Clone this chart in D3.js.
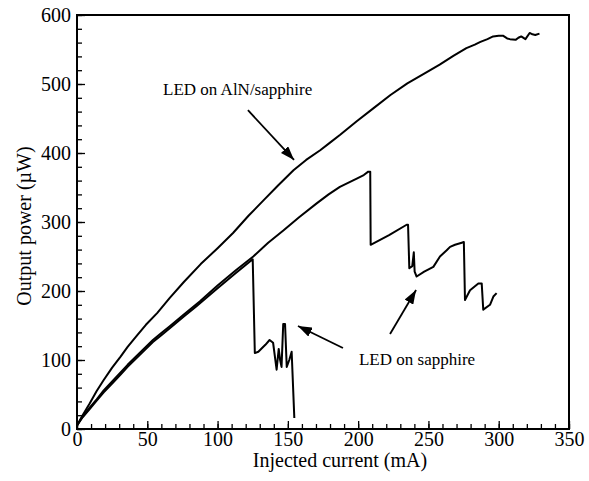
<!DOCTYPE html>
<html>
<head>
<meta charset="utf-8">
<script src="https://cdn.jsdelivr.net/npm/d3@7"></script>
<style>
  body { margin: 0; background: #fff; }
  svg { display: block; }
  text { fill: #000; }
</style>
</head>
<body>
<svg id="chart" width="589" height="481"></svg>
<script>
// injected current (mA), output power (uW)
const alnCurve = [
  [0, 5], [4, 20], [9, 37], [14, 55], [19, 71], [25, 89], [31, 105], [36, 119], [42, 134],
  [49, 151], [57, 168], [66, 190], [76, 213], [88, 239], [100, 262], [111, 284], [122, 309],
  [133, 332], [143, 353], [154, 375], [163, 390], [173, 404], [180, 415], [187, 426],
  [199, 446], [211, 465], [223, 484], [235, 501], [247, 515], [258, 528], [268, 541],
  [277, 552], [283, 557], [287, 561], [292, 565], [296, 569], [300, 570], [303, 570],
  [306, 566], [308, 565], [312, 564], [314, 567], [316, 569], [319, 565], [322, 574],
  [324, 572], [326, 571], [329, 573]
];

const sapphireA = [
  [0, 5], [4, 17], [9, 29], [14, 41], [19, 53], [25, 66], [31, 79], [36, 90], [42, 102],
  [48, 114], [54, 126], [60, 136], [66, 146], [76, 163], [85, 178], [100, 204], [113, 226],
  [125, 246], [126.5, 110], [129, 112], [134, 122], [137, 129], [139.5, 125], [142, 86],
  [143.5, 116], [144.5, 100], [145.5, 90], [146.7, 152], [148, 152], [149.2, 90],
  [151, 100], [152.7, 112], [154.6, 16]
];

const sapphireB = [
  [0, 5], [4, 18], [9, 31], [14, 43], [19, 56], [25, 69], [31, 82], [36, 93], [42, 105],
  [48, 117], [54, 129], [60, 139], [66, 149], [76, 166], [87.5, 185], [100, 208],
  [113, 230], [125.4, 250], [136, 270], [147, 288], [158, 307], [170.5, 327], [179, 340],
  [187, 351], [199, 363], [204, 368], [207.2, 373], [208.6, 373], [208.9, 267], [222, 281],
  [234.5, 296], [235.5, 296], [236.4, 233], [238.5, 236], [239.6, 256], [240.2, 228],
  [241.6, 221], [247, 228], [253.5, 235], [258.2, 250], [263, 259], [265.4, 264],
  [268.9, 267], [273.7, 270], [275.2, 271], [276, 187], [279.6, 201], [285.5, 211],
  [287.9, 211], [289, 173], [293.8, 180], [296.2, 192], [298.5, 197]
];

const xTicks = [0, 50, 100, 150, 200, 250, 300, 350];
const yTicks = [0, 100, 200, 300, 400, 500, 600];

// labels and arrows, in data units
const notes = [
  { text: 'LED on AlN/sapphire', x: 61.2, y: 484 },
  { text: 'LED on sapphire', x: 200.6, y: 92.8 }
];
const arrows = [
  { from: [121.6, 462], to: [154.4, 390] },
  { from: [189.2, 117.4], to: [157.2, 149.3] },
  { from: [222.7, 137.7], to: [241.2, 201.4] }
];

const serif = "'Liberation Serif', 'Times New Roman', Times, 'Nimbus Roman', 'FreeSerif', 'Noto Serif', 'DejaVu Serif', serif";
const margin = { top: 15, left: 77 };

const svg = d3.select('#chart')
  .style('font-family', serif);
const g = svg.append('g')
  .attr('transform', `translate(${margin.left}, ${margin.top})`);

const xScale = d3.scaleLinear().domain([0, 350]).range([0, 492]);
const yScale = d3.scaleLinear().domain([0, 600]).range([414, 0]);

// minor ticks first, majors on top
g.append('g')
  .attr('transform', 'translate(0, 414)')
  .call(d3.axisBottom(xScale).tickValues(d3.range(0, 351, 10)).tickSize(-5).tickFormat(''))
  .call(a => a.select('.domain').remove());

g.append('g')
  .call(d3.axisLeft(yScale).tickValues(d3.range(0, 601, 20)).tickSize(-5).tickFormat(''))
  .call(a => a.select('.domain').remove());

const xAxis = g.append('g')
  .attr('transform', 'translate(0, 414)')
  .call(d3.axisBottom(xScale).tickValues(xTicks).tickSize(-8).tickPadding(3).tickFormat(d3.format('d')));
xAxis.select('.domain').remove();

const yAxis = g.append('g')
  .call(d3.axisLeft(yScale).tickValues(yTicks).tickSize(-8).tickPadding(6).tickFormat(d3.format('d')));
yAxis.select('.domain').remove();

g.selectAll('g.tick text')
  .style('font-family', serif)
  .style('font-size', '20px');

g.selectAll('.tick line').attr('stroke', '#000').attr('stroke-width', 1.3);

// frame
g.append('rect')
  .attr('x', 0).attr('y', 0)
  .attr('width', 492).attr('height', 414)
  .attr('fill', 'none')
  .attr('stroke', '#000')
  .attr('stroke-width', 2);

const line = d3.line()
  .x(d => xScale(d[0]))
  .y(d => yScale(d[1]));

g.selectAll('path.curve')
  .data([sapphireA, sapphireB, alnCurve])
  .enter()
  .append('path')
    .attr('class', 'curve')
    .attr('d', line)
    .attr('fill', 'none')
    .attr('stroke', '#000')
    .attr('stroke-width', 2)
    .attr('stroke-linejoin', 'round');

// arrow heads
svg.append('defs').append('marker')
  .attr('id', 'head')
  .attr('markerUnits', 'userSpaceOnUse')
  .attr('viewBox', '0 0 14 10')
  .attr('markerWidth', 14)
  .attr('markerHeight', 10)
  .attr('refX', 14)
  .attr('refY', 5)
  .attr('orient', 'auto')
  .append('path')
    .attr('d', 'M0,0 L14,5 L0,10 Z')
    .attr('fill', '#000');

g.selectAll('line.arrow')
  .data(arrows)
  .enter()
  .append('line')
    .attr('class', 'arrow')
    .attr('x1', d => xScale(d.from[0]))
    .attr('y1', d => yScale(d.from[1]))
    .attr('x2', d => xScale(d.to[0]))
    .attr('y2', d => yScale(d.to[1]))
    .attr('stroke', '#000')
    .attr('stroke-width', 1.8)
    .attr('marker-end', 'url(#head)');

g.selectAll('text.note')
  .data(notes)
  .enter()
  .append('text')
    .attr('class', 'note')
    .attr('x', d => xScale(d.x))
    .attr('y', d => yScale(d.y))
    .style('font-family', serif)
    .style('font-size', '17px')
    .text(d => d.text);

// axis titles
svg.append('text')
  .attr('x', 340)
  .attr('y', 467)
  .attr('text-anchor', 'middle')
  .style('font-family', serif)
  .style('font-size', '20px')
  .text('Injected current (mA)');

svg.append('text')
  .attr('transform', 'translate(31, 226) rotate(-90)')
  .attr('text-anchor', 'middle')
  .style('font-family', serif)
  .style('font-size', '20px')
  .text('Output power (\u00b5W)');
</script>
</body>
</html>
